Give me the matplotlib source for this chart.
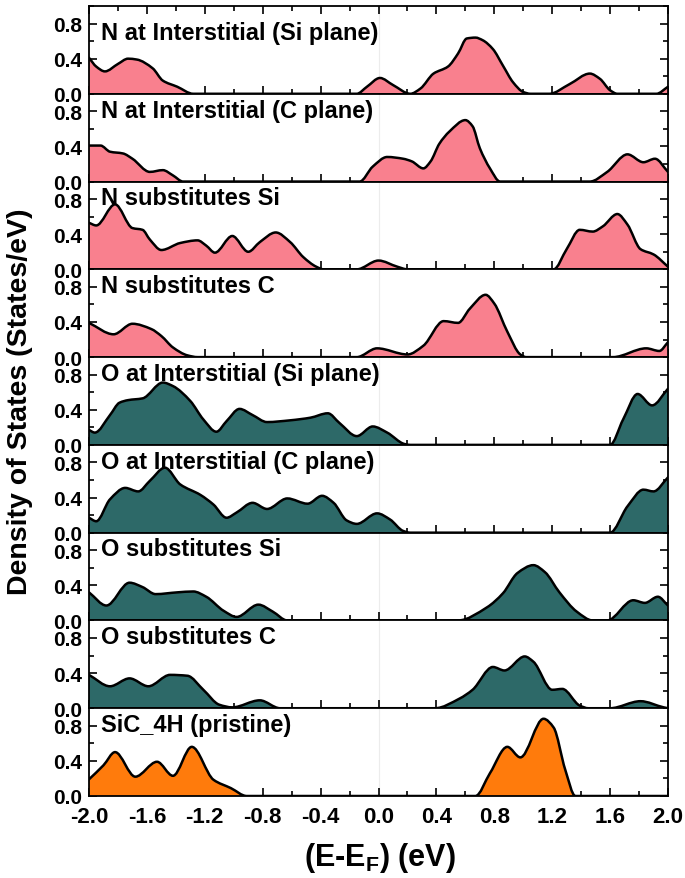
import numpy as np
import matplotlib
matplotlib.use('Agg')
import matplotlib.pyplot as plt
from matplotlib.path import Path
from matplotlib.patches import PathPatch
from matplotlib.ticker import MultipleLocator

plt.rcParams['font.family'] = ['Liberation Sans', 'DejaVu Sans']
plt.rcParams['font.weight'] = 'bold'
plt.rcParams['mathtext.fontset'] = 'custom'
plt.rcParams['mathtext.rm'] = 'Liberation Sans:bold'
plt.rcParams['mathtext.bf'] = 'Liberation Sans:bold'

# ---------------- data ----------------
labels = ["N at Interstitial (Si plane)", "N at Interstitial (C plane)",
          "N substitutes Si", "N substitutes C",
          "O at Interstitial (Si plane)", "O at Interstitial (C plane)",
          "O substitutes Si", "O substitutes C", "SiC_4H (pristine)"]

pink = '#F9808E'
teal = '#2D6968'
orange = '#FF7B0C'
colors = [pink, pink, pink, pink, teal, teal, teal, teal, orange]

n_int_si_x = [-2.0, -1.95, -1.89, -1.80, -1.73, -1.67, -1.56, -1.49, -1.39, -1.28,
              -0.15, -0.08, 0.01, 0.10, 0.22, 0.29, 0.38, 0.48, 0.55, 0.61, 0.67,
              0.72, 0.79, 0.86, 0.93, 1.00, 1.05, 1.18, 1.32, 1.46, 1.53, 1.60,
              1.65, 1.92, 2.0]
n_int_si_y = [0.41, 0.31, 0.255, 0.34, 0.40, 0.39, 0.29, 0.15, 0.08, 0.0,
              0.0, 0.08, 0.18, 0.10, 0.0, 0.06, 0.23, 0.31, 0.46, 0.63, 0.64,
              0.61, 0.51, 0.32, 0.13, 0.02, 0.0, 0.0, 0.11, 0.23, 0.17, 0.04,
              0.0, 0.0, 0.08]

n_int_c_x = [-2.0, -1.92, -1.855, -1.765, -1.70, -1.58, -1.49, -1.42, -1.35,
             -0.13, -0.04, 0.06, 0.17, 0.23, 0.31, 0.36, 0.42, 0.49, 0.60, 0.65,
             0.70, 0.77, 0.84, 1.46, 1.58, 1.72, 1.83, 1.91, 2.0]
n_int_c_y = [0.41, 0.41, 0.34, 0.32, 0.26, 0.11, 0.13, 0.07, 0.0,
             0.0, 0.17, 0.28, 0.26, 0.23, 0.15, 0.23, 0.43, 0.57, 0.70, 0.63,
             0.38, 0.15, 0.0, 0.0, 0.11, 0.31, 0.22, 0.26, 0.11]

n_sub_si_x = [-2.0, -1.95, -1.82, -1.70, -1.63, -1.58, -1.50, -1.37, -1.25, -1.19,
              -1.13, -1.01, -0.90, -0.82, -0.71, -0.61, -0.52, -0.43, -0.38,
              -0.15, 0.0, 0.13, 0.20, 1.21, 1.30, 1.39, 1.48, 1.55, 1.65, 1.72,
              1.81, 1.90, 2.0]
n_sub_si_y = [0.53, 0.50, 0.74, 0.47, 0.45, 0.34, 0.22, 0.30, 0.33, 0.27,
              0.19, 0.38, 0.20, 0.31, 0.42, 0.31, 0.14, 0.03, 0.0,
              0.0, 0.10, 0.03, 0.0, 0.0, 0.23, 0.45, 0.43, 0.49, 0.63, 0.51,
              0.23, 0.17, 0.03]

n_sub_c_x = [-2.0, -1.83, -1.70, -1.57, -1.50, -1.42, -1.32, -1.25, -0.15, -0.01,
             0.20, 0.31, 0.45, 0.55, 0.63, 0.74, 0.80, 0.89, 0.98, 1.02, 1.62,
             1.85, 1.94, 2.0]
n_sub_c_y = [0.39, 0.26, 0.38, 0.32, 0.24, 0.11, 0.02, 0.0, 0.0, 0.10,
             0.03, 0.13, 0.41, 0.39, 0.55, 0.71, 0.61, 0.29, 0.03, 0.0, 0.0,
             0.10, 0.07, 0.17]

o_int_si_x = [-2.0, -1.96, -1.855, -1.79, -1.73, -1.63, -1.49, -1.42, -1.30, -1.21,
              -1.12, -1.05, -0.96, -0.87, -0.77, -0.61, -0.47, -0.35, -0.27,
              -0.15, -0.04, 0.06, 0.18, 0.22, 1.60, 1.69, 1.79, 1.89, 2.0]
o_int_si_y = [0.17, 0.14, 0.34, 0.48, 0.51, 0.53, 0.71, 0.67, 0.50, 0.29,
              0.15, 0.27, 0.41, 0.34, 0.26, 0.28, 0.31, 0.36, 0.25,
              0.10, 0.21, 0.14, 0.01, 0.0, 0.0, 0.29, 0.58, 0.45, 0.64]

o_int_c_x = [-2.0, -1.95, -1.855, -1.75, -1.66, -1.58, -1.475, -1.37, -1.23, -1.14,
             -1.05, -0.98, -0.87, -0.77, -0.63, -0.49, -0.39, -0.31, -0.22,
             -0.15, -0.01, 0.08, 0.17, 0.22, 1.60, 1.72, 1.83, 1.90, 2.0]
o_int_c_y = [0.17, 0.13, 0.38, 0.51, 0.47, 0.59, 0.74, 0.55, 0.43, 0.32,
             0.17, 0.23, 0.34, 0.27, 0.39, 0.33, 0.42, 0.34, 0.14,
             0.10, 0.22, 0.15, 0.02, 0.0, 0.0, 0.30, 0.49, 0.47, 0.63]

o_sub_si_x = [-2.0, -1.88, -1.72, -1.63, -1.54, -1.39, -1.28, -1.19, -1.07, -0.98,
              -0.83, -0.73, -0.63, 0.55, 0.75, 0.86, 0.96, 1.07, 1.15, 1.25,
              1.37, 1.48, 1.58, 1.76, 1.84, 1.93, 2.0]
o_sub_si_y = [0.32, 0.17, 0.43, 0.38, 0.30, 0.32, 0.33, 0.27, 0.11, 0.04,
              0.18, 0.10, 0.0, 0.0, 0.15, 0.31, 0.54, 0.63, 0.55, 0.32,
              0.10, 0.0, 0.0, 0.23, 0.20, 0.27, 0.17]

o_sub_c_x = [-2.0, -1.855, -1.72, -1.59, -1.44, -1.32, -1.21, -1.10, -1.01, -0.82,
             -0.68, 0.39, 0.56, 0.65, 0.79, 0.87, 1.01, 1.07, 1.20, 1.27, 1.39,
             1.45, 1.60, 1.81, 1.97, 2.0]
o_sub_c_y = [0.38, 0.25, 0.34, 0.25, 0.38, 0.37, 0.21, 0.04, 0.01, 0.09,
             0.0, 0.0, 0.11, 0.21, 0.47, 0.43, 0.59, 0.53, 0.21, 0.22, 0.03,
             0.0, 0.0, 0.08, 0.01, 0.0]

pristine_x = [-2.0, -1.90, -1.82, -1.68, -1.53, -1.42, -1.29, -1.14, -1.02, -0.91,
              0.67, 0.77, 0.89, 0.98, 1.14, 1.21, 1.29, 1.36, 2.0]
pristine_y = [0.19, 0.35, 0.50, 0.22, 0.39, 0.23, 0.56, 0.185, 0.09, 0.0,
              0.0, 0.26, 0.56, 0.44, 0.88, 0.78, 0.30, 0.0, 0.0]

series_x = [n_int_si_x, n_int_c_x, n_sub_si_x, n_sub_c_x,
            o_int_si_x, o_int_c_x, o_sub_si_x, o_sub_c_x, pristine_x]
series_y = [n_int_si_y, n_int_c_y, n_sub_si_y, n_sub_c_y,
            o_int_si_y, o_int_c_y, o_sub_si_y, o_sub_c_y, pristine_y]

x_ticks = [-2.0, -1.6, -1.2, -0.8, -0.4, 0.0, 0.4, 0.8, 1.2, 1.6, 2.0]
y_ticks = [0.0, 0.4, 0.8]


# ---------------- smooth drawing helpers ----------------
def slopes(x, y):
    h = np.diff(x)
    d = np.diff(y) / h
    m = np.zeros(len(x))
    for k in range(1, len(x) - 1):
        if d[k - 1] * d[k] <= 0:
            m[k] = 0.0
        else:
            w1 = 2 * h[k] + h[k - 1]
            w2 = h[k] + 2 * h[k - 1]
            m[k] = (w1 + w2) / (w1 / d[k - 1] + w2 / d[k])
    m[0] = d[0]
    m[-1] = d[-1]
    return m


def curve_segments(x, y):
    x = np.asarray(x, float)
    y = np.asarray(y, float)
    m = slopes(x, y)
    verts, codes = [], []
    for i in range(len(x) - 1):
        h = x[i + 1] - x[i]
        verts += [(x[i] + h / 3, y[i] + m[i] * h / 3),
                  (x[i + 1] - h / 3, y[i + 1] - m[i + 1] * h / 3),
                  (x[i + 1], y[i + 1])]
        codes += [Path.CURVE4] * 3
    return verts, codes


fig, axes = plt.subplots(len(labels), 1, figsize=(6.85, 8.79), dpi=100, sharex=True)
fig.subplots_adjust(left=89 / 685, right=668 / 685, top=1 - 7 / 879,
                    bottom=1 - 797 / 879, hspace=0)

for i, ax in enumerate(axes):
    x = series_x[i]
    y = series_y[i]
    cv, cc = curve_segments(x, y)
    # filled area
    fverts = [(x[0], 0.0), (x[0], y[0])] + cv + [(x[-1], 0.0), (x[0], 0.0)]
    fcodes = [Path.MOVETO, Path.LINETO] + cc + [Path.LINETO, Path.CLOSEPOLY]
    ax.add_patch(PathPatch(Path(fverts, fcodes), facecolor=colors[i],
                           edgecolor='none', zorder=2))
    # outline
    lverts = [(x[0], y[0])] + cv
    lcodes = [Path.MOVETO] + cc
    ax.add_patch(PathPatch(Path(lverts, lcodes), facecolor='none',
                           edgecolor='black', lw=1.8, zorder=3,
                           capstyle='round', joinstyle='round'))
    ax.axvline(0.0, color='#ececec', lw=0.8, zorder=1)

    ax.set_xlim(-2.0, 2.0)
    ax.set_ylim(0.0, 1.0)
    ax.set_yticks(y_ticks)
    ax.yaxis.set_minor_locator(MultipleLocator(0.2))
    ax.set_xticks(x_ticks)
    ax.xaxis.set_minor_locator(MultipleLocator(0.2))
    ax.tick_params(which='both', direction='in', width=1.2,
                   top=(i == 0), right=True, bottom=True, left=True,
                   labelsize=15, pad=5)
    ax.tick_params(which='major', length=6)
    ax.tick_params(which='minor', length=3.5)
    ax.tick_params(axis='x', pad=7, labelsize=16)
    for s in ax.spines.values():
        s.set_linewidth(1.3)
    ax.set_yticklabels(['0.0', '0.4', '0.8'])
    ax.text(0.02, 0.70 if i == 0 else 0.815, labels[i], transform=ax.transAxes,
            ha='left', va='center', fontsize=17, fontweight='bold', zorder=5)

axes[-1].set_xticklabels(['%.1f' % v for v in x_ticks])

fig.text(20 / 685, 1 - 402 / 879, 'Density of States (States/eV)', rotation=90,
         ha='center', va='center', fontsize=20.5, fontweight='bold')
fig.text(380 / 685, 1 - 858 / 879, r'(E-E$_{\mathrm{F}}$) (eV)',
         ha='center', va='center', fontsize=22, fontweight='bold')

fig.savefig('out.png', dpi=100)
